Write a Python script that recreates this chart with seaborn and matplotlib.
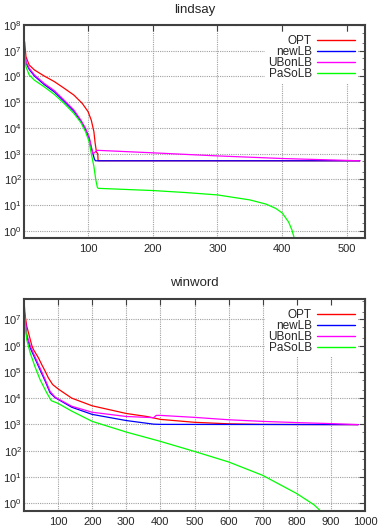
import numpy as np
import pandas as pd
import matplotlib
matplotlib.use('Agg')
import matplotlib.pyplot as plt
import seaborn as sns

series_names = ['OPT', 'newLB', 'UBonLB', 'PaSoLB']
series_colors = ['#ff0000', '#0000ff', '#ff00ff', '#00ff00']

# lindsay
lindsay_opt_x = [1, 2, 4, 9, 17, 32, 48, 63, 78, 91, 100, 105, 109, 111, 113, 115, 115.5, 520]
lindsay_opt_y = [2.6e7, 2.2e7, 5.9e6, 2.8e6, 1.8e6, 1.05e6, 6.3e5, 3.5e5, 1.9e5, 9e4, 4.3e4,
                 2e4, 7.2e3, 2.5e3, 1.15e3, 1e3, 530, 530]
lindsay_new_x = [1, 2, 4, 9, 17, 32, 48, 63, 78, 89, 96, 101.5, 105, 108, 110, 111.5, 520]
lindsay_new_y = [9e6, 9.5e6, 3.4e6, 1.9e6, 1.05e6, 4.9e5, 2.5e5, 1.08e5, 4.5e4, 1.8e4, 8.7e3,
                 4.1e3, 1.7e3, 900, 600, 530, 530]
lindsay_ub_x = [1, 2, 4, 9, 17, 32, 48, 63, 78, 89, 96, 101.5, 105, 107.5, 110, 113, 115,
                200, 300, 400, 520]
lindsay_ub_y = [1.2e7, 1.07e7, 3.8e6, 2.1e6, 1.15e6, 5.4e5, 2.8e5, 1.2e5, 5e4, 2e4, 9.7e3,
                4.6e3, 1.9e3, 1e3, 1.1e3, 1.3e3, 1350, 1080, 820, 650, 530]
lindsay_paso_x = [1, 2, 4, 9, 17, 32, 48, 63, 78, 89, 96, 101.5, 105, 109, 112, 114.5, 116,
                  200, 250, 300, 350, 375, 390, 400, 410, 415, 418, 420]
lindsay_paso_y = [1e7, 6.7e6, 2.4e6, 1.15e6, 7.2e5, 4e5, 2e5, 9e4, 3.7e4, 1.6e4, 7.2e3, 3e3,
                  1e3, 320, 95, 48, 45, 37, 31, 25, 16, 11, 7.5, 5, 2.2, 1.1, 0.6, 0.3]

# winword
winword_opt_x = [1, 3, 8, 15, 23, 28, 42, 52, 62, 71.5, 84, 101, 140, 200, 300, 360, 400,
                 500, 600, 700, 800, 980]
winword_opt_y = [3.5e7, 1.5e7, 5.6e6, 2.5e6, 1e6, 7e5, 3.5e5, 1.9e5, 1.07e5, 5.9e4, 3.3e4,
                 2.2e4, 1e4, 5.1e3, 2.6e3, 2e3, 1.55e3, 1.2e3, 1.05e3, 1e3, 990, 980]
winword_new_x = [1, 3, 8, 18, 32, 47, 62, 76.5, 91, 100, 140, 200, 300, 380, 400, 980]
winword_new_y = [1.8e7, 1e7, 2.3e6, 8.4e5, 3.3e5, 1.2e5, 4.5e4, 1.6e4, 1.05e4, 9e3, 4.5e3,
                 2.4e3, 1.4e3, 1.02e3, 1e3, 980]
winword_ub_x = [1, 3, 8, 18, 32, 47, 62, 76.5, 91, 100, 140, 200, 300, 380, 388, 400, 500,
                600, 700, 800, 900, 980]
winword_ub_y = [2e7, 1.3e7, 2.7e6, 1e6, 3.8e5, 1.4e5, 5.1e4, 1.8e4, 1.1e4, 9.4e3, 4.9e3,
                2.9e3, 2e3, 1.8e3, 2.2e3, 2.2e3, 1.85e3, 1.5e3, 1.3e3, 1.17e3, 1.07e3, 980]
winword_paso_x = [1, 3, 8, 18, 32, 47, 66.6, 80, 100, 140, 200, 300, 400, 500, 600, 700,
                  800, 850, 870, 880]
winword_paso_y = [1.5e7, 7.5e6, 1.7e6, 5.4e5, 1.6e5, 5.1e4, 1.6e4, 8e3, 6.3e3, 3.2e3, 1.3e3,
                  510, 225, 93, 37, 11.4, 2.3, 0.87, 0.5, 0.4]

lindsay_yticks = [1e0, 1e1, 1e2, 1e3, 1e4, 1e5, 1e6, 1e7, 1e8]
winword_yticks = [1e0, 1e1, 1e2, 1e3, 1e4, 1e5, 1e6, 1e7]


def make_df(xs, ys):
    parts = []
    for name, x, y in zip(series_names, xs, ys):
        parts.append(pd.DataFrame({'x': x, 'y': y, 'series': name}))
    return pd.concat(parts, ignore_index=True)


lindsay = make_df([lindsay_opt_x, lindsay_new_x, lindsay_ub_x, lindsay_paso_x],
                  [lindsay_opt_y, lindsay_new_y, lindsay_ub_y, lindsay_paso_y])
winword = make_df([winword_opt_x, winword_new_x, winword_ub_x, winword_paso_x],
                  [winword_opt_y, winword_new_y, winword_ub_y, winword_paso_y])

sns.set_style('white')
plt.rcParams['font.family'] = ['Liberation Sans', 'DejaVu Sans']

fig = plt.figure(figsize=(3.79, 5.30), dpi=100)
ax1 = fig.add_axes([24 / 379, 1 - 238 / 530, 341 / 379, 213 / 530])
ax2 = fig.add_axes([24 / 379, 1 - 511 / 530, 341 / 379, 212 / 530])


def style_axes(ax, data, title, xlim, ylim, xticks, yticks):
    sns.lineplot(data=data, x='x', y='y', hue='series', hue_order=series_names,
                 palette=series_colors, estimator=None, sort=False, linewidth=0.9,
                 ax=ax, legend=False)
    ax.set_yscale('log')
    ax.set_xlim(*xlim)
    ax.set_ylim(*ylim)
    ax.set_xticks(xticks)
    ax.set_yticks(yticks)
    ax.yaxis.set_minor_locator(matplotlib.ticker.LogLocator(base=10, subs=(2, 5), numticks=20))
    ax.yaxis.set_minor_formatter(matplotlib.ticker.NullFormatter())
    ax.set_xlabel('')
    ax.set_ylabel('')
    ax.set_title(title, fontsize=9.5, pad=9)
    ax.grid(True, which='major', color='#a0a0a0', linestyle=(0, (1, 1)), linewidth=0.8)
    for s in ax.spines.values():
        s.set_linewidth(1.5)
        s.set_color('#404040')
    ax.tick_params(axis='both', which='major', direction='in', top=True, right=True,
                   length=4, width=0.8, labelsize=8, color='#404040')
    ax.tick_params(axis='y', which='major', pad=1.5)
    ax.tick_params(axis='x', which='major', pad=4)
    ax.tick_params(axis='y', which='minor', direction='in', right=True, length=2,
                   width=0.5, color='#404040')
    handles = [plt.Line2D([], [], color=c, linewidth=1.0) for c in series_colors]
    leg = ax.legend(handles, series_names, loc='upper right', markerfirst=False,
                    fontsize=8.5, labelspacing=-0.08, handlelength=3.2, handletextpad=0.45,
                    borderaxespad=0.6, borderpad=0.25, frameon=True, fancybox=False)
    leg.get_frame().set_edgecolor('none')
    leg.get_frame().set_facecolor('white')
    leg.get_frame().set_alpha(1)


style_axes(ax1, lindsay, 'lindsay', (1, 528), (0.53, 1e8), [100, 200, 300, 400, 500],
           lindsay_yticks)
style_axes(ax2, winword, 'winword', (0, 1000), (0.5, 6e7),
           [100, 200, 300, 400, 500, 600, 700, 800, 900, 1000], winword_yticks)

fig.savefig('out.png', dpi=100)
